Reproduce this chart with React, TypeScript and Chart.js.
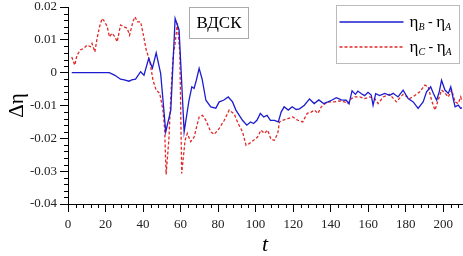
import React, { useEffect, useRef } from 'react';
import { Chart, registerables } from 'chart.js';

Chart.register(...registerables);

// Series B − A (solid blue)
const tB = [2, 5, 10, 15, 20, 22, 25, 28, 30, 32.5, 34, 36, 38.7, 40.5, 43, 45, 47, 49.4, 52.1, 54.8, 57.1, 59.2, 61.9, 64.5, 66, 67.2, 68.4, 69.9, 71.5, 73.5, 76.1, 78.8, 80.6, 82.9, 85.4, 87.7, 89.5, 91.3, 93, 95.3, 97.3, 98.9, 100.7, 102.5, 104.3, 106.1, 107.9, 110, 112.1, 113.6, 115.2, 117.4, 119.5, 121.6, 123.4, 126, 128.7, 131.2, 133.7, 136.2, 138.5, 140.5, 143, 145.7, 148.3, 149.8, 151.4, 153.2, 154.5, 156.4, 158.1, 159.9, 161.6, 162.6, 164, 166.1, 168.8, 171.5, 173.3, 175.9, 178.6, 181.3, 184, 186.6, 189.3, 191.1, 193.3, 194.7, 196.5, 197.9, 199.1, 200.9, 202.7, 204, 205.3, 206.3, 208, 209.3, 210.5];
const dB = [0, 0, 0, 0, 0, 0, -0.0008, -0.002, -0.0022, -0.0026, -0.0022, -0.002, 0.0003, -0.0008, 0.0043, 0.0014, 0.006, -0.0003, -0.018, -0.0114, 0.0165, 0.013, -0.018, -0.0084, -0.0043, -0.0048, -0.0023, 0.0013, -0.002, -0.0084, -0.0104, -0.0108, -0.0089, -0.0084, -0.0074, -0.0089, -0.0114, -0.013, -0.0145, -0.016, -0.015, -0.0155, -0.0145, -0.0124, -0.0135, -0.013, -0.0145, -0.0145, -0.015, -0.012, -0.0104, -0.0114, -0.0104, -0.0112, -0.011, -0.0099, -0.008, -0.0094, -0.0083, -0.0094, -0.0089, -0.0084, -0.0076, -0.0083, -0.0084, -0.0095, -0.0055, -0.0066, -0.0056, -0.0064, -0.007, -0.006, -0.0068, -0.0099, -0.0064, -0.007, -0.0063, -0.0069, -0.0063, -0.0074, -0.0053, -0.0079, -0.0089, -0.0109, -0.0089, -0.0058, -0.0043, -0.0063, -0.0084, -0.0058, -0.0023, -0.0053, -0.0063, -0.0043, -0.0079, -0.0104, -0.0099, -0.0109, -0.0105];

// Series C − A (dashed red)
const tC = [2, 3.6, 4.8, 6.6, 8.4, 10.2, 12, 12.8, 14.3, 15.5, 16.8, 18.2, 19.6, 20.9, 22.1, 23.5, 25, 26.2, 28, 29.8, 31.6, 32.8, 34.6, 35.7, 37.1, 38.7, 40, 41.7, 43.5, 45.3, 47, 48.9, 50.6, 51.5, 52.3, 53.8, 55, 56, 57.1, 58.3, 59.6, 60.6, 62.4, 63.6, 65.4, 67.2, 69.9, 71.7, 73.5, 76.1, 77.9, 80.6, 83.3, 85.9, 88.6, 90.7, 93, 94.9, 96.6, 98.9, 101, 102.9, 104.7, 106.4, 108.2, 110, 111.8, 112.7, 114.4, 117.1, 119.8, 122.5, 125.1, 127.5, 129.6, 131.4, 133.2, 135, 137.1, 139.4, 142.1, 144.8, 147.4, 149.2, 151, 152.8, 155.5, 158.1, 160.8, 163.5, 165.3, 168, 171.5, 175, 178.6, 182.2, 185, 187.5, 190.2, 192, 193.8, 195.6, 197.3, 199.1, 200.9, 202.7, 204.5, 206.3, 208, 209.3, 210.5];
const dC = [0.0048, 0.0023, 0.0053, 0.0069, 0.0074, 0.0084, 0.0079, 0.0089, 0.0063, 0.0104, 0.014, 0.0165, 0.0155, 0.014, 0.0109, 0.012, 0.0109, 0.0094, 0.0145, 0.014, 0.0135, 0.0114, 0.0155, 0.017, 0.0155, 0.0155, 0.012, 0.0069, 0.0038, -0.0023, -0.0053, -0.0063, -0.0114, -0.017, -0.031, -0.02, -0.005, 0.005, 0.009, 0.015, 0.006, -0.0307, -0.0206, -0.0185, -0.021, -0.0196, -0.0135, -0.013, -0.0145, -0.018, -0.0188, -0.017, -0.0145, -0.0114, -0.0126, -0.0155, -0.018, -0.0221, -0.0216, -0.0206, -0.0196, -0.0175, -0.0185, -0.0175, -0.0203, -0.0206, -0.0185, -0.015, -0.0145, -0.014, -0.0135, -0.0145, -0.015, -0.0124, -0.012, -0.0114, -0.0124, -0.0104, -0.0094, -0.0089, -0.0089, -0.0086, -0.0089, -0.0094, -0.0079, -0.0074, -0.0074, -0.0079, -0.0074, -0.0079, -0.0094, -0.0074, -0.0066, -0.0089, -0.0066, -0.0079, -0.0069, -0.0058, -0.0038, -0.0043, -0.0084, -0.0114, -0.0084, -0.0053, -0.0062, -0.0074, -0.0053, -0.0089, -0.0094, -0.0074, -0.0095];

const legendMain = ['η', 'η'];
const legendSubs = [['B', 'A'], ['C', 'A']];
const boxText = 'ВДСК';
const xTitle = 't';
const yTitle = 'Δη';

const xMin = 0, xMax = 210, xMajor = 20, xMinor = 4;
const yMin = -0.04, yMax = 0.02, yMajor = 0.01, yMinor = 0.002;

const SERIF = '"Liberation Serif", "Times New Roman", serif';
const BLUE = '#1c1cd0';
const RED = '#e02828';

const overlayPlugin = {
  id: 'overlay',
  afterDraw(chart: any) {
    const ctx = chart.ctx as CanvasRenderingContext2D;
    const xs = chart.scales.x;
    const ys = chart.scales.y;
    const area = chart.chartArea;
    ctx.save();
    // minor ticks
    ctx.strokeStyle = '#000';
    ctx.lineWidth = 1;
    ctx.beginPath();
    const nx = Math.round((xMax - xMin) / xMinor);
    for (let k = 0; k <= nx; k++) {
      const v = xMin + k * xMinor;
      if (Math.abs(v / xMajor - Math.round(v / xMajor)) < 1e-6) continue;
      const px = Math.round(xs.getPixelForValue(v)) + 0.5;
      ctx.moveTo(px, area.bottom);
      ctx.lineTo(px, area.bottom + 4);
    }
    const ny = Math.round((yMax - yMin) / yMinor);
    for (let k = 0; k <= ny; k++) {
      const v = yMin + k * yMinor;
      if (Math.abs(v / yMajor - Math.round(v / yMajor)) < 1e-6) continue;
      const py = Math.round(ys.getPixelForValue(v)) + 0.5;
      ctx.moveTo(area.left, py);
      ctx.lineTo(area.left - 4, py);
    }
    ctx.stroke();

    // label box
    const bx = area.left + 121.5, by = area.top + 0.5, bw = 59, bh = 31;
    ctx.fillStyle = '#fff';
    ctx.fillRect(bx, by, bw, bh);
    ctx.strokeStyle = '#aaa';
    ctx.strokeRect(bx, by, bw, bh);
    ctx.fillStyle = '#000';
    ctx.font = `17px ${SERIF}`;
    ctx.textAlign = 'center';
    ctx.textBaseline = 'middle';
    ctx.fillText(boxText, bx + bw / 2, by + bh / 2 + 1);

    // legend
    const lx = area.right - 125.5, ly = 5.5, lw = 123, lh = 58;
    ctx.fillStyle = '#fff';
    ctx.fillRect(lx, ly, lw, lh);
    ctx.strokeStyle = '#bbb';
    ctx.strokeRect(lx, ly, lw, lh);
    chart.data.datasets.forEach((ds: any, i: number) => {
      const yy = ly + 16.5 + i * 25;
      ctx.strokeStyle = ds.borderColor;
      ctx.lineWidth = 1.3;
      ctx.setLineDash(ds.borderDash || []);
      ctx.beginPath();
      ctx.moveTo(lx + 3, yy);
      ctx.lineTo(lx + 67, yy);
      ctx.stroke();
      ctx.setLineDash([]);
      ctx.fillStyle = '#000';
      ctx.textAlign = 'left';
      ctx.textBaseline = 'middle';
      let x = lx + 73;
      const drawEta = (sub: string) => {
        ctx.font = `17px ${SERIF}`;
        ctx.fillText(legendMain[i], x, yy + 1);
        x += ctx.measureText(legendMain[i]).width;
        ctx.font = `italic 10px ${SERIF}`;
        ctx.fillText(sub, x, yy + 5);
        x += ctx.measureText(sub).width;
      };
      drawEta(legendSubs[i][0]);
      ctx.font = `14px ${SERIF}`;
      ctx.fillText(' - ', x, yy);
      x += ctx.measureText(' - ').width;
      drawEta(legendSubs[i][1]);
    });
    ctx.restore();
  },
};

export default function App() {
  const ref = useRef<HTMLCanvasElement | null>(null);
  useEffect(() => {
    if (!ref.current) return;
    const chart = new Chart(ref.current, {
      type: 'line',
      data: {
        datasets: [
          {
            label: 'ηB - ηA',
            data: tB.map((t, i) => ({ x: t, y: dB[i] })),
            borderColor: BLUE,
            borderWidth: 1.3,
            pointRadius: 0,
            tension: 0,
            fill: false,
          },
          {
            label: 'ηC - ηA',
            data: tC.map((t, i) => ({ x: t, y: dC[i] })),
            borderColor: RED,
            borderWidth: 1.3,
            borderDash: [3, 2],
            pointRadius: 0,
            tension: 0,
            fill: false,
          },
        ],
      },
      options: {
        animation: false,
        responsive: true,
        maintainAspectRatio: false,
        layout: { padding: { top: 7, right: 1, left: 0, bottom: 0 } },
        plugins: { legend: { display: false }, tooltip: { enabled: false } },
        scales: {
          x: {
            type: 'linear',
            min: xMin,
            max: xMax,
            grid: { display: true, drawOnChartArea: false, drawTicks: true, tickLength: 8, color: '#000', tickColor: '#000' },
            border: { display: true, color: '#000', width: 1 },
            ticks: {
              stepSize: xMajor,
              includeBounds: false,
              autoSkip: false,
              maxRotation: 0,
              padding: 5,
              color: '#222',
              font: { family: SERIF, size: 13 },
            },
            title: {
              display: true,
              text: xTitle,
              color: '#000',
              font: { family: SERIF, size: 22, style: 'italic', lineHeight: 1 },
              padding: { top: 0, bottom: 0 },
            },
            afterFit: (s: any) => { s.height = 52; s.paddingLeft = 0; s.paddingRight = 0; },
          },
          y: {
            type: 'linear',
            min: yMin,
            max: yMax,
            grid: { display: true, drawOnChartArea: false, drawTicks: true, tickLength: 8, color: '#000', tickColor: '#000' },
            border: { display: true, color: '#000', width: 1 },
            ticks: {
              stepSize: yMajor,
              autoSkip: false,
              padding: 3,
              color: '#222',
              font: { family: SERIF, size: 13 },
              callback: (v: any) => {
                const r = Math.round(Number(v) * 100) / 100;
                return r === 0 ? '0' : r.toFixed(2);
              },
            },
            title: {
              display: true,
              text: yTitle,
              color: '#000',
              font: { family: SERIF, size: 21, lineHeight: 1.2 },
              padding: { top: 5, bottom: 0 },
            },
            afterFit: (s: any) => { s.width = 68; s.paddingTop = 0; s.paddingBottom = 0; },
          },
        },
      },
      plugins: [overlayPlugin],
    } as any);
    return () => chart.destroy();
  }, []);
  return (
    <div style={{ position: 'absolute', left: 0, top: 0, width: 463, height: 256, background: '#fff' }}>
      <canvas ref={ref} />
    </div>
  );
}
